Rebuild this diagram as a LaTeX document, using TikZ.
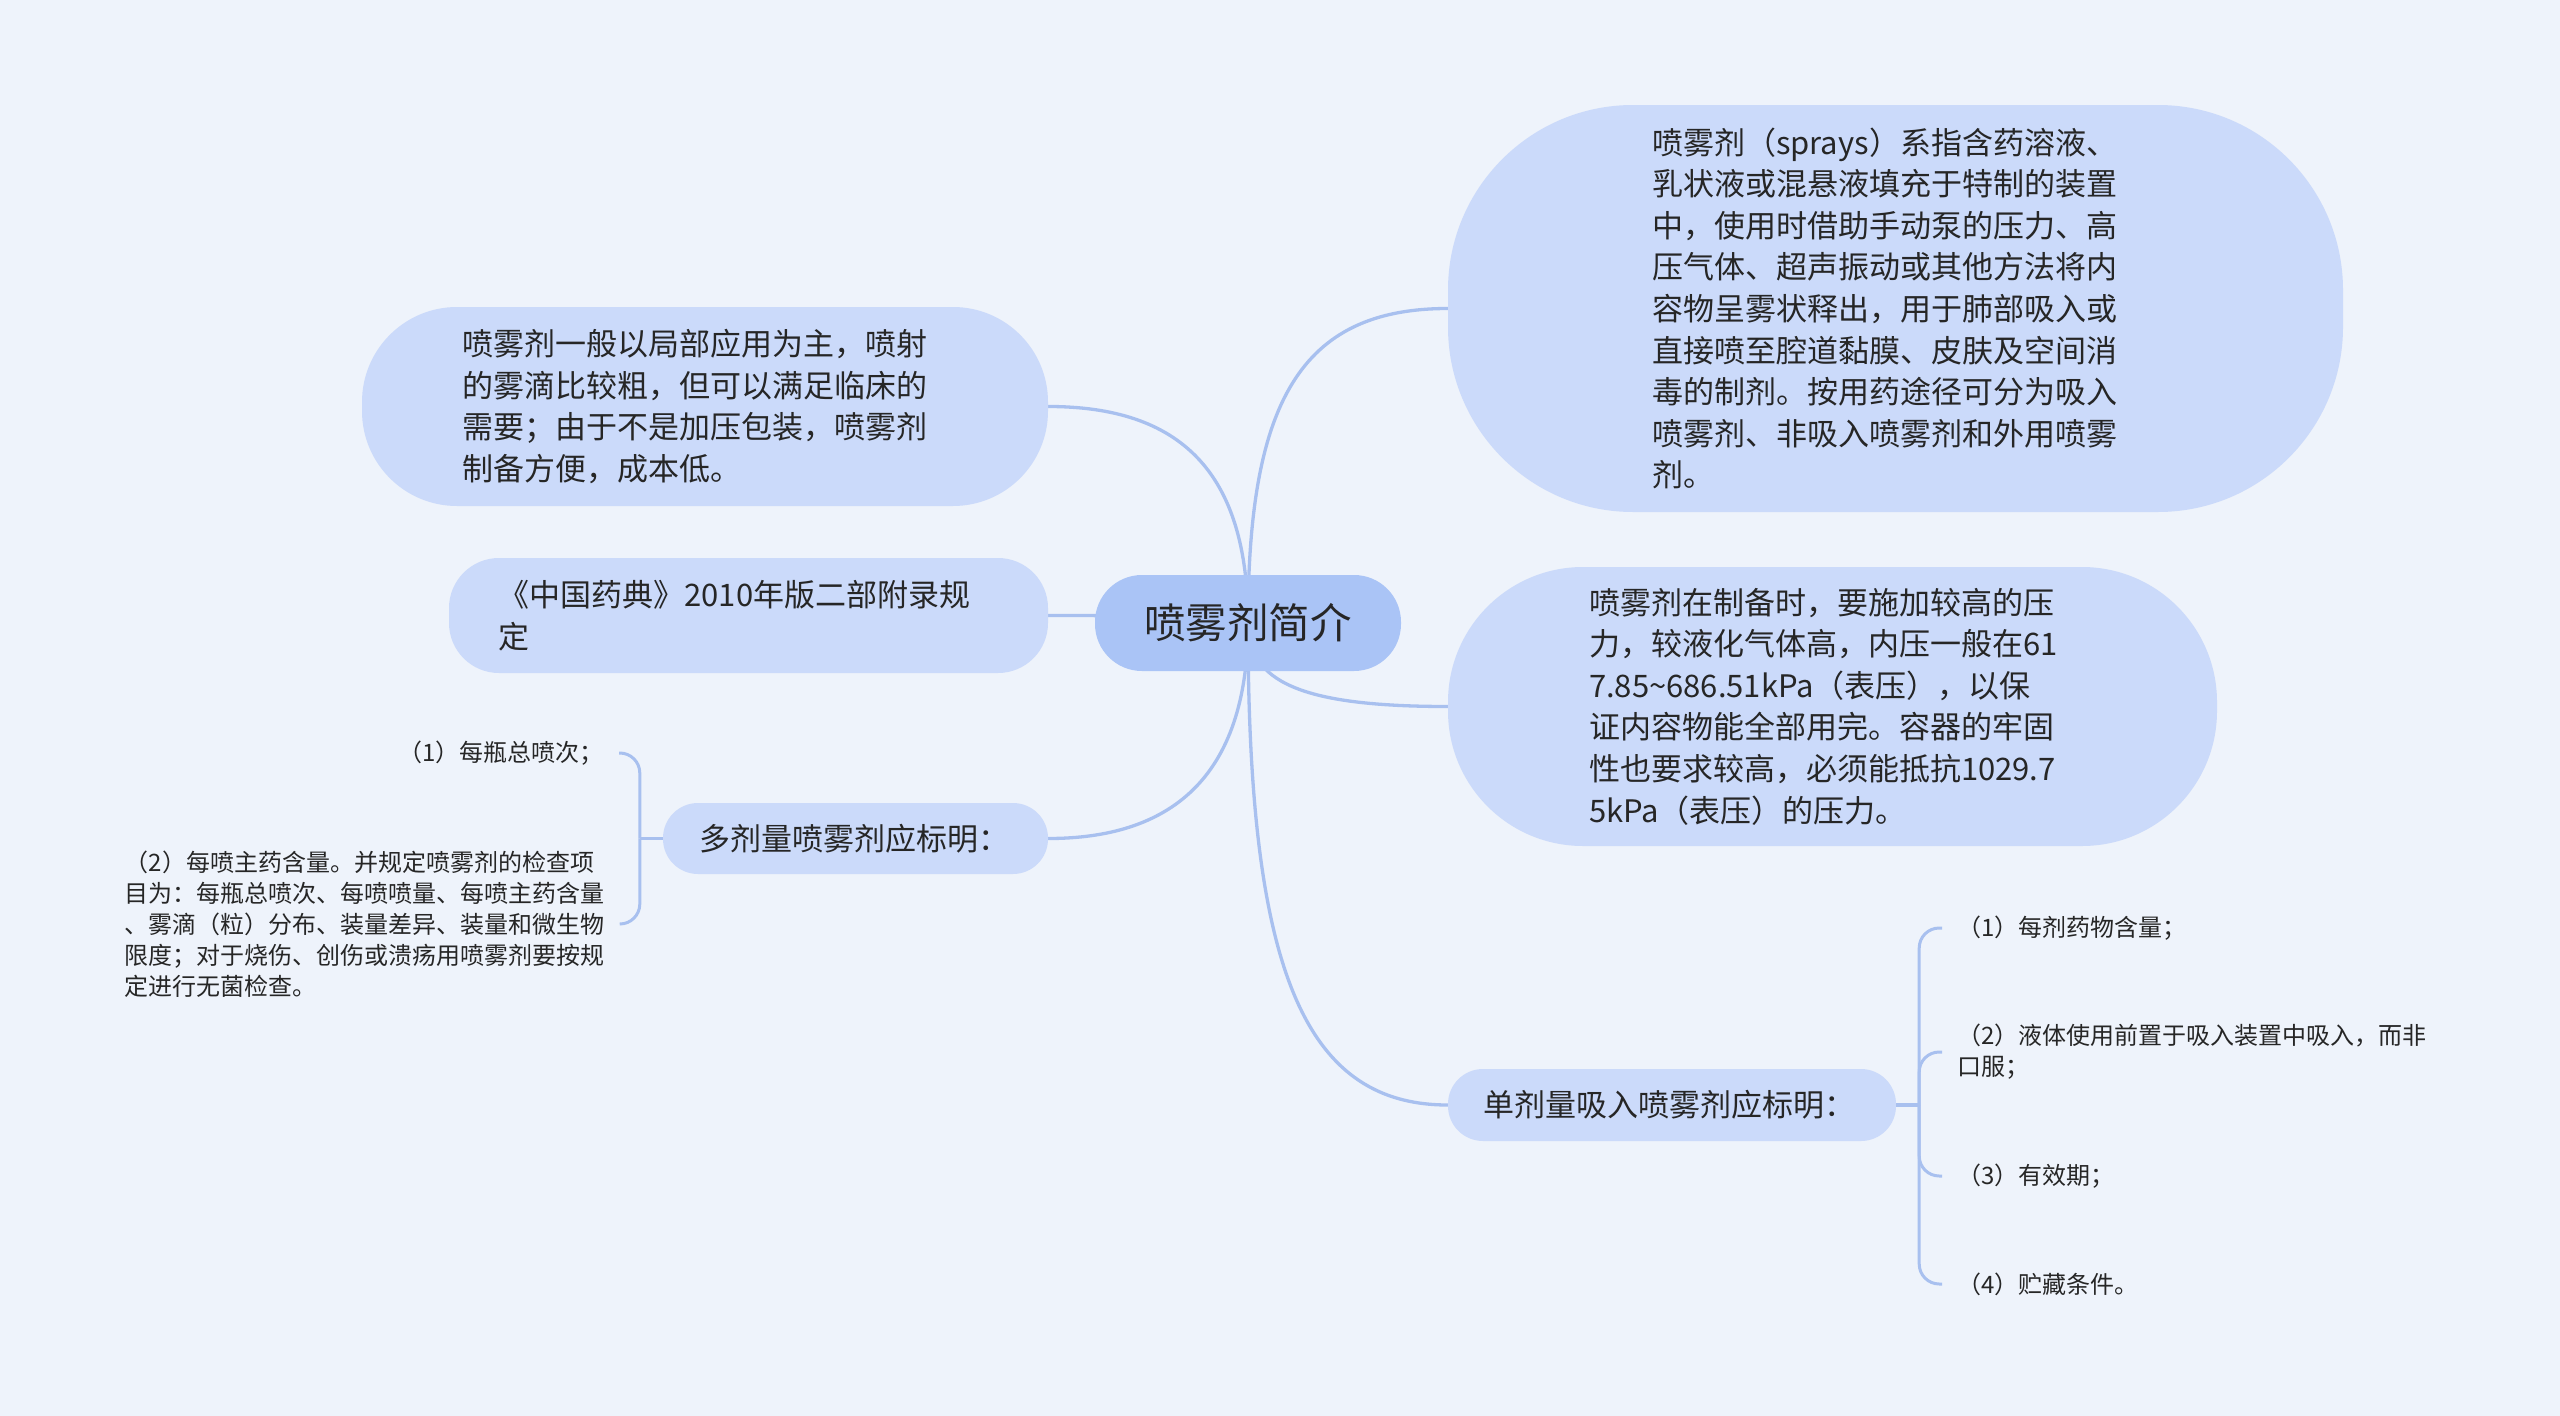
\documentclass[tikz,border=0pt]{standalone}
\usepackage{fontspec}
\newfontfamily\cjk{Noto Sans CJK SC}
\usetikzlibrary{calc}
\definecolor{bgc}{RGB}{238,243,251}
\definecolor{cfill}{RGB}{170,196,246}
\definecolor{nfill}{RGB}{203,218,250}
\definecolor{lnc}{RGB}{168,192,239}
\definecolor{txt}{RGB}{38,38,38}
\pgfdeclarelayer{edgelayer}
\pgfsetlayers{edgelayer,main}
\tikzset{
  topic/.style={rectangle, fill=nfill, text=txt, align=left, inner sep=0pt,
    font=\cjk\fontsize{31}{41.6}\selectfont},
  centraltopic/.style={rectangle, fill=cfill, text=txt, inner sep=0pt,
    font=\cjk\fontsize{41.5}{50}\selectfont, minimum width=306pt,
    minimum height=96pt, rounded corners=47pt},
  leaf/.style={text=txt, align=left, inner sep=0pt,
    font=\cjk\fontsize{24}{31}\selectfont},
  branch/.style={draw=lnc, line width=3.3pt},
  brace/.style={draw=lnc, line width=3pt, rounded corners=20pt},
}
\begin{document}
\begin{tikzpicture}[x=1pt,y=-1pt]
\useasboundingbox (0,0) rectangle (2560,1416);
\begin{pgfonlayer}{edgelayer}
\fill[bgc] (0,0) rectangle (2560,1416);
\end{pgfonlayer}

% central
\node[centraltopic] (c) at (1248,623) {喷雾剂简介};

% right topics
\node[topic, text width=487pt, minimum width=895pt, minimum height=407pt, rounded corners=185pt] (rt) at (1895.5,308.5)
 {喷雾剂（sprays）系指含药溶液、\\乳状液或混悬液填充于特制的装置\\中，使用时借助手动泵的压力、高\\压气体、超声振动或其他方法将内\\容物呈雾状释出，用于肺部吸入或\\直接喷至腔道黏膜、皮肤及空间消\\毒的制剂。按用药途径可分为吸入\\喷雾剂、非吸入喷雾剂和外用喷雾\\剂。};
\node[topic, text width=487pt, minimum width=769pt, minimum height=279pt, rounded corners=135pt] (rm) at (1832.5,706.5)
 {喷雾剂在制备时，要施加较高的压\\力，较液化气体高，内压一般在61\\7.85{\char"007E}686.51kPa（表压），以保\\证内容物能全部用完。容器的牢固\\性也要求较高，必须能抵抗1029.7\\5kPa（表压）的压力。};
\node[topic, text width=378pt, minimum width=448pt, minimum height=72pt, rounded corners=35pt] (rb) at (1672,1105)
 {单剂量吸入喷雾剂应标明：};

% left topics
\node[topic, text width=486pt, minimum width=686pt, minimum height=199pt, rounded corners=95pt] (lt) at (705,406.5)
 {喷雾剂一般以局部应用为主，喷射\\的雾滴比较粗，但可以满足临床的\\需要；由于不是加压包装，喷雾剂\\制备方便，成本低。};
\node[topic, text width=500pt, minimum width=599pt, minimum height=115pt, rounded corners=50pt] (lm) at (748.5,615.5)
 {《中国药典》2010年版二部附录规\\定};
\node[topic, text width=313pt, minimum width=385pt, minimum height=71pt, rounded corners=35pt] (lb) at (855.5,838.5)
 {多剂量喷雾剂应标明：};

% right leaves
\node[leaf, anchor=west] (r1) at (1957,928) {（1）每剂药物含量；};
\node[leaf, anchor=west] (r2) at (1957,1052) {（2）液体使用前置于吸入装置中吸入，而非\\口服；};
\node[leaf, anchor=west] (r3) at (1957,1176) {（3）有效期；};
\node[leaf, anchor=west] (r4) at (1957,1284) {（4）贮藏条件。};

% left leaves
\node[leaf, anchor=east] (l1) at (604,753) {（1）每瓶总喷次；};
\node[leaf, anchor=east] (l2) at (605,924)
 {（2）每喷主药含量。并规定喷雾剂的检查项\\目为：每瓶总喷次、每喷喷量、每喷主药含量\\、雾滴（粒）分布、装量差异、装量和微生物\\限度；对于烧伤、创伤或溃疡用喷雾剂要按规\\定进行无菌检查。};

\coordinate (jr) at ($(rb.east)+(23,0)$);
\coordinate (jl) at ($(lb.west)+(-23,0)$);

\begin{pgfonlayer}{edgelayer}
\draw[branch] (c.center) .. controls ($(c.center)!0.7!(c.center|-rt.west)$) and ($(rt.west)!0.74!(c.center|-rt.west)$) .. (rt.west);
\draw[branch] (c.center) .. controls ($(c.center)!0.7!(c.center|-rm.west)$) and ($(rm.west)!0.74!(c.center|-rm.west)$) .. (rm.west);
\draw[branch] (c.center) .. controls ($(c.center)!0.7!(c.center|-rb.west)$) and ($(rb.west)!0.74!(c.center|-rb.west)$) .. (rb.west);
\draw[branch] (c.center) .. controls ($(c.center)!0.7!(c.center|-lt.east)$) and ($(lt.east)!0.66!(c.center|-lt.east)$) .. (lt.east);
\draw[branch] (c.center) .. controls ($(c.center)!0.7!(c.center|-lm.east)$) and ($(lm.east)!0.7!(c.center|-lm.east)$) .. (lm.east);
\draw[branch] (c.center) .. controls ($(c.center)!0.73!(c.center|-lb.east)$) and ($(lb.east)!0.6!(c.center|-lb.east)$) .. (lb.east);
\end{pgfonlayer}

% right bracket
\draw[branch] (rb.east) -- (jr);
\draw[brace] (jr) |- ([xshift=-15pt]r1.west);
\draw[brace] (jr) |- ([xshift=-15pt]r2.west);
\draw[brace] (jr) |- ([xshift=-15pt]r3.west);
\draw[brace] (jr) |- ([xshift=-15pt]r4.west);

% left bracket
\draw[branch] (lb.west) -- (jl);
\draw[brace] (jl) |- ([xshift=15pt]l1.east);
\draw[brace] (jl) |- ([xshift=15pt]l2.east);
\end{tikzpicture}
\end{document}
